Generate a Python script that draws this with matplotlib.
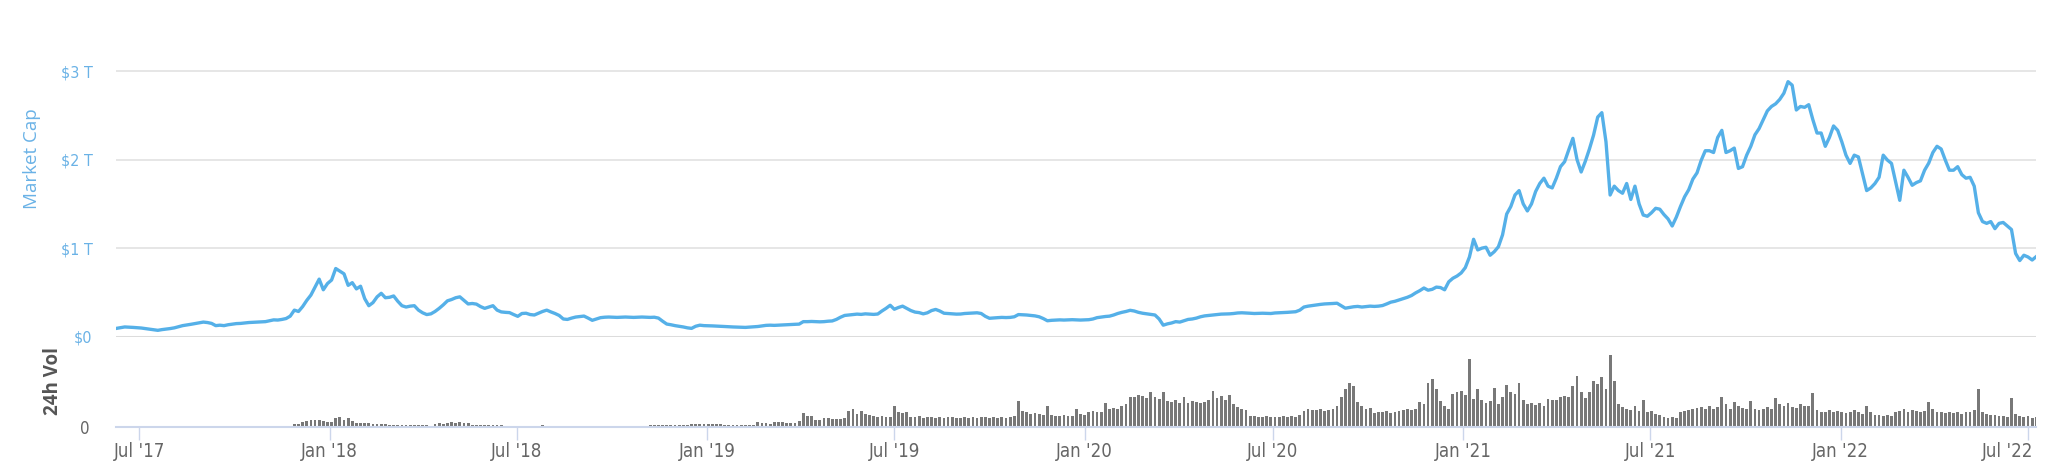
import matplotlib
matplotlib.use('Agg')
import matplotlib.pyplot as plt
import matplotlib.transforms as mtransforms
from matplotlib import font_manager as fm
import pandas as pd
import numpy as np

# total market cap ($B), one value every 4 days from 2017-06-09
cap_2017 = [94, 102, 110, 108, 105, 102, 98, 92, 85, 78,
            72, 80, 86, 92, 100, 112, 125, 132, 140, 148,
            155, 165, 160, 150, 125, 130, 125, 135, 142, 148,
            150, 155, 160, 162, 165, 168, 170, 180, 190, 188,
            195, 205, 232, 300, 285, 340, 410, 470, 560, 650,
            530, 600]
cap_2018 = [640, 770, 740, 710, 580, 610, 540, 570, 430, 350,
            385, 450, 490, 440, 445, 460, 400, 350, 335, 345,
            350, 300, 270, 250, 258, 285, 320, 360, 405, 420,
            440, 450, 410, 370, 375, 368, 340, 320, 335, 350,
            300, 280, 275, 272, 250, 230, 262, 265, 250, 245,
            265, 285, 300, 280, 262, 240, 200, 195, 210, 222,
            228, 233, 210, 185, 200, 215, 220, 222, 220, 218,
            220, 222, 220, 218, 220, 222, 220, 218, 220, 210,
            175, 143, 135, 125, 118, 110, 100, 94, 118, 130,
            125]
cap_2019 = [124, 122, 120, 118, 115, 112, 110, 108, 106, 105,
            108, 110, 115, 122, 128, 130, 128, 130, 133, 135,
            138, 140, 142, 170, 170, 172, 170, 168, 170, 175,
            178, 195, 220, 240, 245, 250, 255, 252, 258, 255,
            252, 256, 290, 320, 355, 310, 330, 345, 320, 295,
            278, 272, 258, 270, 295, 308, 290, 265, 262, 258,
            255, 256, 262, 265, 268, 270, 262, 230, 208, 212,
            215, 218, 216, 218, 225, 250, 248, 245, 240, 235,
            225, 205, 180, 185, 188, 190, 188, 190, 192, 190,
            188, 190]
cap_2020 = [192, 200, 215, 222, 228, 232, 245, 262, 275, 285,
            298, 290, 275, 265, 258, 250, 245, 200, 130, 145,
            155, 170, 165, 180, 195, 200, 210, 225, 235, 240,
            245, 250, 255, 256, 258, 262, 268, 270, 268, 265,
            262, 264, 265, 263, 262, 268, 270, 272, 275, 278,
            282, 300, 335, 345, 352, 358, 365, 370, 372, 375,
            378, 350, 322, 330, 338, 342, 335, 340, 345, 342,
            345, 352, 370, 390, 400, 415, 430, 445, 465, 495,
            520, 550, 525, 535, 560, 555, 530, 620, 660, 685,
            720]
cap_2021 = [780, 900, 1100, 980, 1000, 1010, 920, 960, 1016, 1150,
            1385, 1470, 1600, 1650, 1500, 1420, 1500, 1640, 1730, 1790,
            1700, 1680, 1790, 1920, 1976, 2110, 2240, 2000, 1860, 1980,
            2120, 2277, 2480, 2530, 2200, 1600, 1700, 1650, 1620, 1730,
            1550, 1700, 1500, 1374, 1360, 1400, 1450, 1440, 1380, 1330,
            1250, 1350, 1470, 1580, 1660, 1780, 1850, 1990, 2100, 2100,
            2080, 2250, 2330, 2080, 2100, 2130, 1900, 1920, 2050, 2150,
            2280, 2350, 2450, 2550, 2600, 2630, 2680, 2750, 2880, 2840,
            2560, 2600, 2590, 2620, 2450, 2300, 2300, 2150, 2250, 2380,
            2330, 2200]
cap_2022 = [2050, 1957, 2050, 2030, 1840, 1650, 1680, 1730, 1800, 2050,
            1995, 1957, 1750, 1540, 1880, 1800, 1710, 1740, 1760, 1880,
            1960, 2080, 2150, 2120, 1995, 1880, 1880, 1920, 1830, 1790,
            1800, 1700, 1400, 1300, 1280, 1300, 1220, 1280, 1290, 1250,
            1210, 940, 860, 920, 900, 866, 905]

# 24h volume ($B), same dates
vol_2017 = [0] * 40 + [5, 5, 8, 18, 20, 30, 35, 42, 44, 45, 40, 29]
vol_2018 = [32, 58, 62, 44, 58, 40, 27, 27, 25, 22,
            18, 18, 18, 16, 14, 13, 13, 13, 12, 13,
            12, 12, 13, 12, 0, 18, 22, 20, 28, 30,
            27, 31, 28, 27, 14, 13, 13, 12, 13, 12,
            13, 9, 0, 6, 0, 7, 6, 0, 7, 8,
            7, 9, 0, 7, 7, 0, 0, 0, 0, 0,
            7, 7, 6, 0, 0, 7, 7, 6, 7, 0,
            5, 0, 0, 0, 0, 0, 0, 10, 13, 12,
            13, 12, 13, 12, 13, 12, 13, 16, 18, 17,
            18]
vol_2019 = [16, 18, 17, 18, 13, 12, 13, 13, 12, 13,
            12, 13, 30, 22, 25, 20, 31, 30, 31, 27,
            26, 27, 40, 92, 73, 70, 44, 45, 58, 55,
            50, 52, 51, 55, 107, 118, 84, 107, 84, 80,
            70, 65, 73, 62, 68, 140, 96, 90, 96, 65,
            62, 70, 58, 62, 65, 60, 62, 58, 62, 66,
            60, 58, 62, 60, 64, 58, 62, 66, 60, 63,
            60, 62, 58, 62, 72, 173, 107, 95, 84, 90,
            84, 80, 140, 80, 73, 70, 75, 72, 70, 118,
            82, 80]
vol_2020 = [95, 102, 100, 98, 155, 120, 124, 118, 140, 151,
            196, 200, 213, 205, 190, 229, 200, 185, 233, 169,
            165, 175, 155, 196, 160, 170, 165, 160, 162, 175,
            240, 190, 205, 180, 213, 150, 129, 120, 110, 73,
            70, 65, 62, 70, 66, 62, 68, 72, 66, 70,
            68, 75, 107, 118, 110, 112, 118, 108, 110, 115,
            140, 200, 251, 289, 273, 162, 140, 118, 125, 90,
            100, 95, 107, 92, 100, 104, 110, 118, 112, 118,
            162, 150, 290, 318, 251, 173, 140, 118, 220, 230,
            240]
vol_2021 = [210, 451, 184, 251, 178, 160, 170, 258, 150, 196,
            280, 229, 215, 291, 178, 150, 160, 145, 155, 140,
            184, 175, 180, 200, 207, 196, 273, 340, 229, 190,
            230, 307, 284, 329, 251, 480, 307, 151, 130, 120,
            110, 140, 105, 178, 95, 107, 84, 75, 62, 58,
            66, 60, 96, 107, 110, 118, 125, 130, 120, 135,
            118, 130, 200, 150, 120, 162, 140, 128, 118, 173,
            120, 110, 118, 129, 115, 191, 150, 140, 155, 130,
            125, 150, 135, 140, 222, 110, 100, 95, 110, 100,
            105, 96]
vol_2022 = [90, 100, 110, 96, 85, 140, 95, 75, 80, 70,
            78, 72, 96, 107, 118, 100, 110, 104, 96, 108,
            162, 118, 100, 95, 90, 100, 92, 96, 84, 100,
            98, 110, 251, 96, 84, 75, 80, 70, 73, 62,
            191, 84, 73, 66, 70, 55, 62]

cap = cap_2017 + cap_2018 + cap_2019 + cap_2020 + cap_2021 + cap_2022
vol = vol_2017 + vol_2018 + vol_2019 + vol_2020 + vol_2021 + vol_2022
dates = pd.date_range('2017-06-09', periods=len(cap), freq='4D')

tick_dates = ['2017-07-01', '2018-01-01', '2018-07-01', '2019-01-01', '2019-07-01', '2020-01-01',
              '2020-07-01', '2021-01-01', '2021-07-01', '2022-01-01', '2022-07-01']
tick_labels = ["Jul '17", "Jan '18", "Jul '18", "Jan '19", "Jul '19", "Jan '20",
               "Jul '20", "Jan '21", "Jul '21", "Jan '22", "Jul '22"]
cap_ticks = [0, 1, 2, 3]
cap_tick_labels = ['$0', '$1 T', '$2 T', '$3 T']

blue = '#55b0e8'
label_blue = '#6ab2e6'

# pick a narrow font for the tick labels if one is around
fonts = fm.fontManager.ttflist
narrow_files = [f.fname for f in fonts if f.name == 'Liberation Sans Narrow' and f.weight in (400, 'normal', 'regular')]
cond_files = [f.fname for f in fonts if f.name == 'DejaVu Sans' and f.stretch == 'condensed'
              and f.weight in (400, 'normal', 'book') and f.style == 'normal']
if narrow_files:
    fname, ysize = narrow_files[0], 12.5
elif cond_files:
    fname, ysize = cond_files[0], 11
else:
    fname, ysize = None, 10.5

def tick_font(size):
    if fname:
        return dict(fontproperties=fm.FontProperties(fname=fname, size=size))
    return dict(family='DejaVu Sans', fontsize=size)

W, H = 2062, 474
fig = plt.figure(figsize=(W / 100, H / 100), dpi=100)
left = 116 / W
width = 1920 / W
ax = fig.add_axes([left, (H - 336.7) / H, width, (336.7 - 45) / H])
axv = fig.add_axes([left, (H - 426.7) / H, width, 90 / H], sharex=ax)

# market cap line
ax.plot(dates, np.array(cap) / 1000, color=blue, lw=2.4, zorder=3, solid_joinstyle='round')
ax.set_ylim(0, 3.294)
ax.set_yticks(cap_ticks)
ax.set_yticklabels(cap_tick_labels, color=label_blue, **tick_font(ysize * 1.05))
ax.tick_params(axis='y', length=0, pad=17)
ax.tick_params(axis='x', length=0, labelbottom=False)
ax.grid(axis='y', color='#e6e6e6', lw=1.4)
ax.axhline(0, color='#dcdcdc', lw=2.2, zorder=2)
for s in ax.spines.values():
    s.set_visible(False)

# volume bars
axv.bar(dates, vol, width=2.7, color='#787878', zorder=2)
axv.set_ylim(0, 600)
axv.set_yticks([0])
axv.set_yticklabels(['0'], color='#666666', **tick_font(ysize * 1.1))
axv.tick_params(axis='y', length=0, pad=19)
axv.set_xticks(pd.to_datetime(tick_dates))
axv.set_xticklabels(tick_labels, color='#666666', **tick_font(ysize * 1.22))
axv.tick_params(axis='x', length=9.5, width=1, color='#ccd6eb', pad=1.5)
for s in ['top', 'left', 'right']:
    axv.spines[s].set_visible(False)
axv.spines['bottom'].set_color('#ccd6eb')
axv.spines['bottom'].set_linewidth(1.5)
axv.set_xlim(pd.Timestamp('2017-06-08 14:00'), pd.Timestamp('2022-07-08 17:00'))

# last label is pushed left so it stays inside the plot, like the original
last = axv.get_xticklabels()[-1]
last.set_horizontalalignment('right')
last.set_transform(last.get_transform() + mtransforms.ScaledTranslation(5 / 100, 0, fig.dpi_scale_trans))

fig.text(32 / W, 1 - 159 / H, 'Market Cap', rotation=90, ha='center', va='center',
         fontsize=13.5, color=label_blue, family=['Open Sans', 'DejaVu Sans'])
fig.text(53 / W, 1 - 381 / H, '24h Vol', rotation=90, ha='center', va='center',
         fontsize=13.5, color='#555555', fontweight='bold', family=['Open Sans', 'DejaVu Sans'])

fig.savefig('out.png', dpi=100, facecolor='white')
